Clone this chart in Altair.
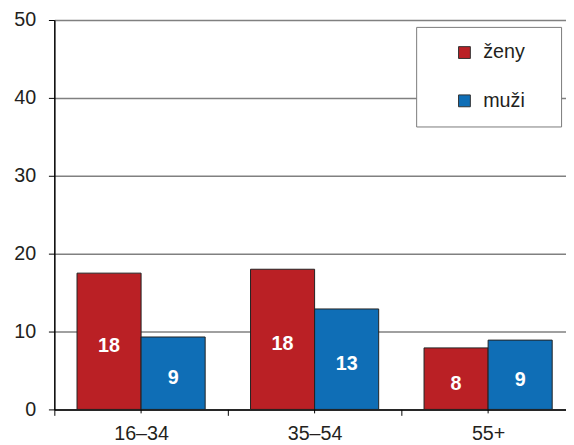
import altair as alt
import pandas as pd

groups = ["16–34", "35–54", "55+"]
sexes = ["ženy", "muži"]
zeny = [17.5, 18.0, 7.9]
muzi = [9.3, 12.9, 8.9]
zeny_labels = ["18", "18", "8"]
muzi_labels = ["9", "13", "9"]
colors = ["#BA2025", "#0F6EB6"]

rows = []
for g, v, l in zip(groups, zeny, zeny_labels):
    rows.append({"group": g, "sex": "ženy", "value": v, "label": l})
for g, v, l in zip(groups, muzi, muzi_labels):
    rows.append({"group": g, "sex": "muži", "value": v, "label": l})
df = pd.DataFrame(rows)
df_groups = pd.DataFrame({"group": groups})

FONT = "Liberation Sans"
xscale = alt.Scale(range=[0, 528], paddingInner=0, paddingOuter=0)
offscale = alt.Scale(paddingInner=0, paddingOuter=0.354)

xenc = alt.X("group:N", sort=groups, title=None, scale=xscale,
             axis=alt.Axis(orient="bottom", labelAngle=0, tickBand="extent",
                           labelFontSize=20, labelColor="#231f20", labelPadding=9,
                           tickSize=6, tickColor="black", domainColor="black",
                           domainWidth=1.5, tickWidth=1, labelFont=FONT, grid=False))

bars = alt.Chart(df).mark_bar(stroke="#222", strokeWidth=1).encode(
    x=xenc,
    xOffset=alt.XOffset("sex:N", sort=sexes, scale=offscale),
    y=alt.Y("value:Q", title=None,
            scale=alt.Scale(domain=[0, 50], nice=False),
            axis=alt.Axis(values=[0, 10, 20, 30, 40, 50], labelFontSize=20,
                          labelColor="#231f20", labelPadding=13, tickSize=6,
                          tickColor="black", domainColor="black", domainWidth=1.5,
                          gridColor="#808080", gridWidth=1.5, labelFont=FONT)),
    color=alt.Color("sex:N", sort=sexes,
                    scale=alt.Scale(domain=sexes, range=colors),
                    legend=alt.Legend(orient="none", legendX=367, legendY=7,
                                      title=None, fillColor="white",
                                      strokeColor="#7a7a7a", padding=16,
                                      symbolOffset=23,
                                      labelFontSize=20, labelColor="#231f20",
                                      labelFont=FONT, symbolType="square",
                                      symbolSize=144, symbolStrokeColor="#333",
                                      symbolStrokeWidth=1, symbolOpacity=1,
                                      rowPadding=29, labelOffset=9,
                                      labelExpr="datum.label + '\u00a0\u2800'")),
)

text = alt.Chart(df).transform_calculate(mid="datum.value / 2").mark_text(
    color="white", fontWeight="bold", fontSize=20, font=FONT, baseline="middle", dy=5
).encode(
    x=xenc,
    xOffset=alt.XOffset("sex:N", sort=sexes, scale=offscale),
    y=alt.Y("mid:Q"),
    text="label:N",
)

center_ticks = alt.Chart(df_groups).mark_rule(color="black", strokeWidth=1).encode(
    x=xenc,
    y=alt.value(395),
    y2=alt.value(399),
)

chart = alt.layer(bars, text, center_ticks).properties(
    width=519, height=395,
    autosize=alt.AutoSizeParams(type="none"),
    padding={"left": 47, "top": 9, "right": 0, "bottom": 40},
).configure_view(stroke=None).configure(font=FONT)

chart.save("out.html", embed_options={"renderer": "svg", "actions": False})
